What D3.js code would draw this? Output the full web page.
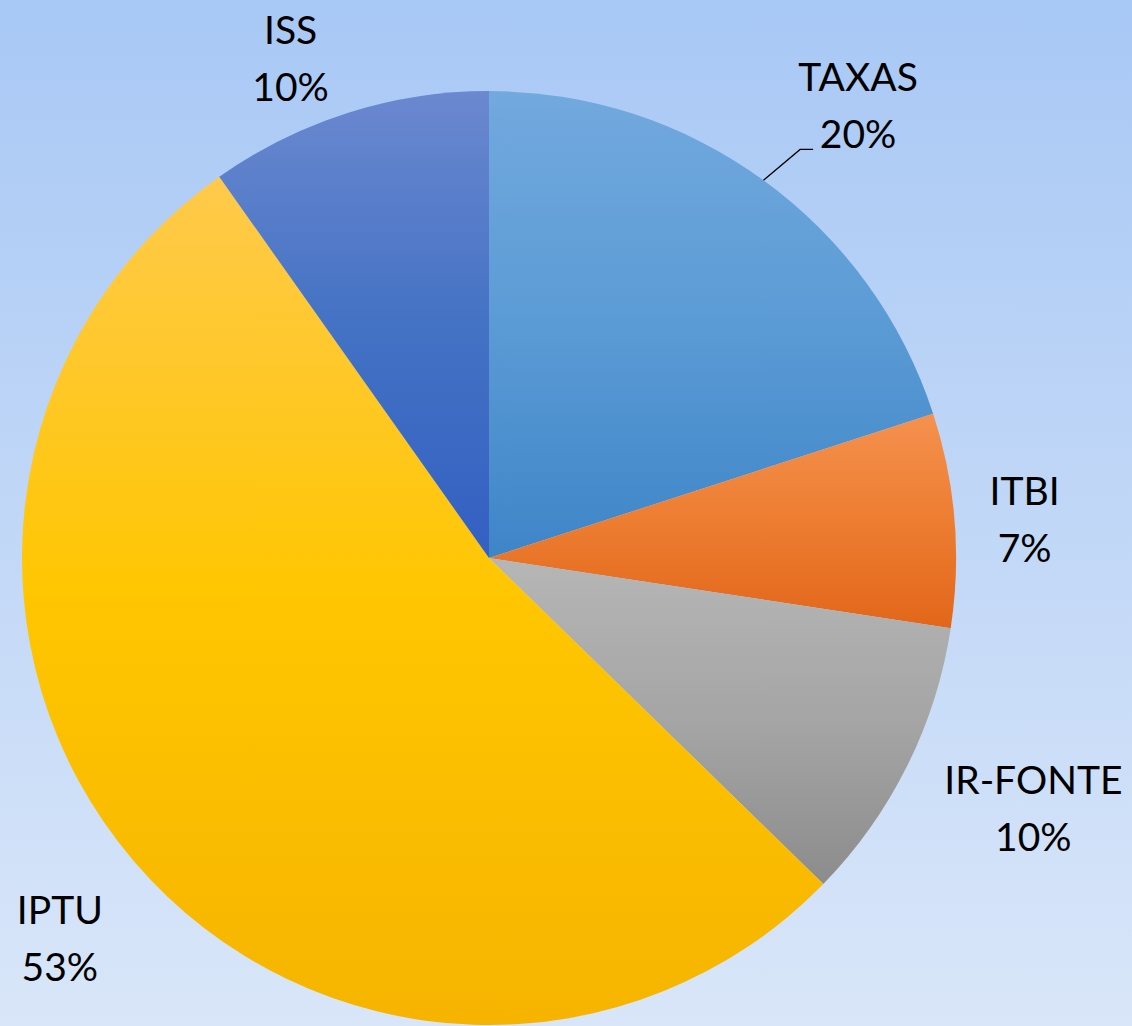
<!DOCTYPE html>
<html>
<head>
<meta charset="utf-8">
<script src="https://cdn.jsdelivr.net/npm/d3@7"></script>
<style>
  body { margin: 0; overflow: hidden; }
  text { font-family: Lato, "Open Sans", sans-serif; fill: #000; }
</style>
</head>
<body>
<div id="chart"></div>
<script>
let width = 1132
let height = 1026

// data (share of revenue, %)
let categories = ["TAXAS", "ITBI", "IR-FONTE", "IPTU", "ISS"]
let values = [20.0, 7.4, 9.9, 52.9, 9.8]
let topColors = ["#72a9de", "#f5914f", "#b6b6b6", "#ffca4c", "#6b88d0"]
let midColors = ["#5b9bd5", "#ed7d31", "#a5a5a5", "#ffc600", "#4472c4"]
let bottomColors = ["#3e85c8", "#e2661a", "#8c8c8c", "#f6b400", "#3360c2"]

// label placement: [degrees added to slice mid-angle, distance from centre]
let labelPlace = {
  "TAXAS": [3.2, 584],
  "ITBI": [0.5, 537],
  "IR-FONTE": [-1.8, 599],
  "IPTU": [-1, 573],
  "ISS": [-4, 538]
}

let cx = 489, cy = 558, r = 467

let svg = d3.select("#chart")
  .append("svg")
    .attr("width", width)
    .attr("height", height)

let defs = svg.append("defs")

let bg = defs.append("linearGradient")
    .attr("id", "bg")
    .attr("x1", 0).attr("y1", 0).attr("x2", 0).attr("y2", 1)
bg.append("stop").attr("offset", "0%").attr("stop-color", "#a8c8f5")
bg.append("stop").attr("offset", "100%").attr("stop-color", "#d9e6f9")

svg.append("rect")
    .attr("width", width)
    .attr("height", height)
    .attr("fill", "url(#bg)")

categories.forEach(function(c, i) {
  let g = defs.append("linearGradient")
      .attr("id", "grad" + i)
      .attr("x1", 0).attr("y1", 0).attr("x2", 0).attr("y2", 1)
  g.append("stop").attr("offset", "0%").attr("stop-color", topColors[i])
  g.append("stop").attr("offset", "50%").attr("stop-color", midColors[i])
  g.append("stop").attr("offset", "100%").attr("stop-color", bottomColors[i])
})

let data = categories.map(function(c, i) { return { name: c, value: values[i], idx: i } })
let total = d3.sum(values)

let pie = d3.pie()
    .sort(null)
    .value(function(d) { return d.value })

let arc = d3.arc()
    .innerRadius(0)
    .outerRadius(r)

let arcs = pie(data)

let g = svg.append("g")
    .attr("transform", "translate(" + cx + "," + cy + ")")

g.selectAll("path")
  .data(arcs)
  .enter()
  .append("path")
    .attr("d", arc)
    .attr("fill", function(d) { return "url(#grad" + d.data.idx + ")" })

function labelPos(d) {
  let p = labelPlace[d.data.name]
  let a = (d.startAngle + d.endAngle) / 2 + p[0] * Math.PI / 180
  return [Math.sin(a) * p[1], -Math.cos(a) * p[1]]
}

let labels = g.selectAll("text.lbl")
  .data(arcs)
  .enter()
  .append("text")
    .attr("class", "lbl")
    .attr("text-anchor", "middle")
    .style("font-size", "39px")
    .attr("transform", function(d) { let p = labelPos(d); return "translate(" + p[0] + "," + p[1] + ")" })

labels.append("tspan")
    .attr("x", 0)
    .attr("y", -14)
    .text(function(d) { return d.data.name })

labels.append("tspan")
    .attr("x", 0)
    .attr("y", 43)
    .text(function(d) { return d3.format(".0f")(d.data.value / total * 100) + "%" })

// leader line for TAXAS
let t = arcs[0]
let ma = (t.startAngle + t.endAngle) / 2
let lp = labelPos(t)
g.append("polyline")
    .attr("points", [
      [Math.sin(ma) * r, -Math.cos(ma) * r],
      [lp[0] - 58, lp[1] + 44],
      [lp[0] - 45, lp[1] + 44]
    ].map(function(p) { return p.join(",") }).join(" "))
    .attr("fill", "none")
    .attr("stroke", "#000")
    .attr("stroke-width", 1.3)
</script>
</body>
</html>
